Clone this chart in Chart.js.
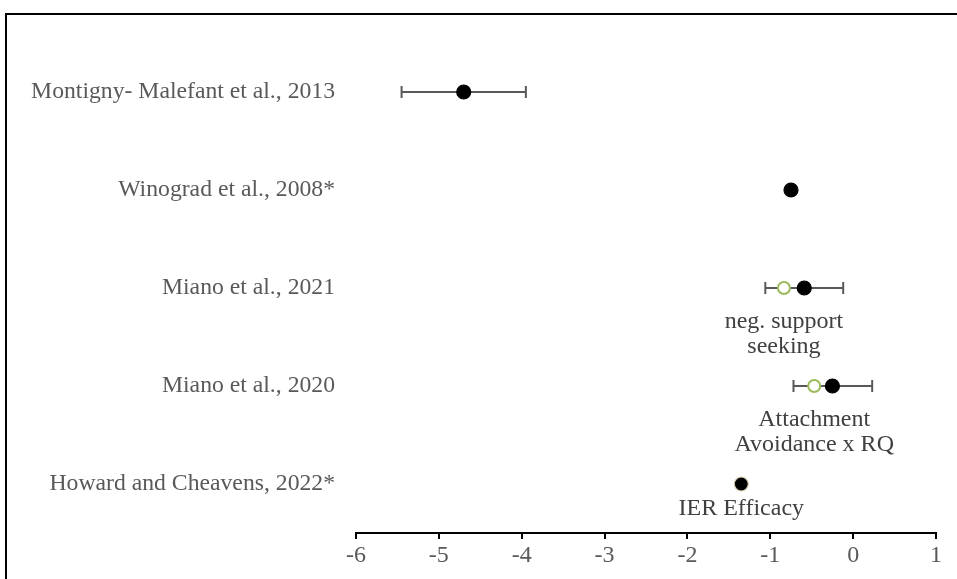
<!DOCTYPE html>
<html>
<head>
<meta charset="utf-8">
<script src="https://cdn.jsdelivr.net/npm/chart.js@4"></script>
<style>
  html, body { margin: 0; padding: 0; background: #ffffff; }
  #wrap { width: 957px; height: 579px; position: relative; }
</style>
</head>
<body>
<div id="wrap"><canvas id="forest" width="957" height="579"></canvas></div>
<script>
// Studies, top to bottom
const studies = [
  'Montigny- Malefant et al., 2013',
  'Winograd et al., 2008*',
  'Miano et al., 2021',
  'Miano et al., 2020',
  'Howard and Cheavens, 2022*'
];
// Main effect estimates and their intervals (null = no interval reported)
const estimate = [-4.70, -0.75, -0.59, -0.25, -1.35];
const ciLow    = [-5.45, null, -1.06, -0.72, null];
const ciHigh   = [-3.95, null, -0.12, 0.23, null];
// Moderator estimates (open green markers)
const moderatorEstimate = [null, null, -0.835, -0.47, null];
// Moderator captions, printed under the marker
const moderatorLabels = [null, null, ['neg. support', 'seeking'], ['Attachment', 'Avoidance x RQ'], ['IER Efficacy']];
// X axis tick values
const xTicks = [-6, -5, -4, -3, -2, -1, 0, 1];

const SERIF = '"Liberation Serif", "Times New Roman", Times, serif';
const TEXT_GRAY = '#595959';
const CAPTION_GRAY = '#404040';
const GREEN = '#9BBB59';

const mainPoints = [];
const mainBorders = [];
estimate.forEach((v, i) => {
  if (v !== null) {
    mainPoints.push({ x: v, y: studies[i] });
    // the IER efficacy marker carries a pale ring
    mainBorders.push(moderatorLabels[i] && moderatorEstimate[i] === null ? '#d6cdb0' : '#000000');
  }
});
const modPoints = [];
moderatorEstimate.forEach((v, i) => {
  if (v !== null) modPoints.push({ x: v, y: studies[i] });
});

// Outer frame around the figure
const framePlugin = {
  id: 'frame',
  beforeDraw(chart) {
    const ctx = chart.ctx;
    ctx.save();
    ctx.fillStyle = '#000000';
    ctx.fillRect(5, 13, chart.width, 2);
    ctx.fillRect(5, 13, 2, chart.height);
    ctx.restore();
  }
};

// Horizontal interval whiskers with end caps
const whiskerPlugin = {
  id: 'whiskers',
  beforeDatasetsDraw(chart) {
    const { ctx, scales: { x, y } } = chart;
    ctx.save();
    ctx.strokeStyle = TEXT_GRAY;
    ctx.lineWidth = 2;
    studies.forEach((s, i) => {
      if (ciLow[i] === null || ciHigh[i] === null) return;
      const py = y.getPixelForValue(i);
      const x1 = x.getPixelForValue(ciLow[i]);
      const x2 = x.getPixelForValue(ciHigh[i]);
      ctx.beginPath();
      ctx.moveTo(x1, py); ctx.lineTo(x2, py);
      ctx.moveTo(x1, py - 6); ctx.lineTo(x1, py + 6);
      ctx.moveTo(x2, py - 6); ctx.lineTo(x2, py + 6);
      ctx.stroke();
    });
    ctx.restore();
  }
};

// Captions below the moderator markers
const captionPlugin = {
  id: 'captions',
  afterDatasetsDraw(chart) {
    const { ctx, scales: { x, y } } = chart;
    ctx.save();
    ctx.font = '24px ' + SERIF;
    ctx.fillStyle = CAPTION_GRAY;
    ctx.textAlign = 'center';
    ctx.textBaseline = 'middle';
    studies.forEach((s, i) => {
      const lines = moderatorLabels[i];
      if (!lines) return;
      const anchor = moderatorEstimate[i] !== null ? moderatorEstimate[i] : estimate[i];
      const cx = x.getPixelForValue(anchor);
      const first = y.getPixelForValue(i) + (lines.length > 1 ? 34 : 25);
      lines.forEach((t, k) => ctx.fillText(t, cx, first + k * 25));
    });
    ctx.restore();
  }
};

new Chart(document.getElementById('forest'), {
  type: 'scatter',
  data: {
    datasets: [
      {
        label: 'Moderator',
        data: modPoints,
        pointRadius: 6,
        pointHoverRadius: 6,
        pointBackgroundColor: '#ffffff',
        pointBorderColor: GREEN,
        pointBorderWidth: 2,
        order: 2
      },
      {
        label: 'Estimate',
        data: mainPoints,
        pointRadius: 7,
        pointHoverRadius: 7,
        pointBackgroundColor: '#000000',
        pointBorderColor: mainBorders,
        pointBorderWidth: 1.2,
        order: 1
      }
    ]
  },
  options: {
    responsive: false,
    animation: false,
    events: [],
    layout: { padding: { top: 43, right: 21, left: 0, bottom: 0 } },
    plugins: { legend: { display: false }, tooltip: { enabled: false } },
    scales: {
      x: {
        type: 'linear',
        position: 'bottom',
        min: xTicks[0],
        max: xTicks[xTicks.length - 1],
        afterBuildTicks(scale) { scale.ticks = xTicks.map(v => ({ value: v })); },
        afterFit(scale) { scale.height = 46; },
        grid: { display: true, drawOnChartArea: false, drawTicks: true, tickLength: 6, color: '#000000', lineWidth: 2 },
        border: { display: true, color: '#000000', width: 2 },
        ticks: { font: { family: SERIF, size: 24 }, color: TEXT_GRAY, padding: 2, maxRotation: 0 }
      },
      y: {
        type: 'category',
        labels: studies,
        offset: true,
        afterFit(scale) { scale.width = 356; },
        grid: { display: false, drawTicks: false },
        border: { display: false },
        ticks: { font: { family: SERIF, size: 23.7 }, color: TEXT_GRAY, padding: 21 }
      }
    }
  },
  plugins: [framePlugin, whiskerPlugin, captionPlugin]
});
</script>
</body>
</html>
